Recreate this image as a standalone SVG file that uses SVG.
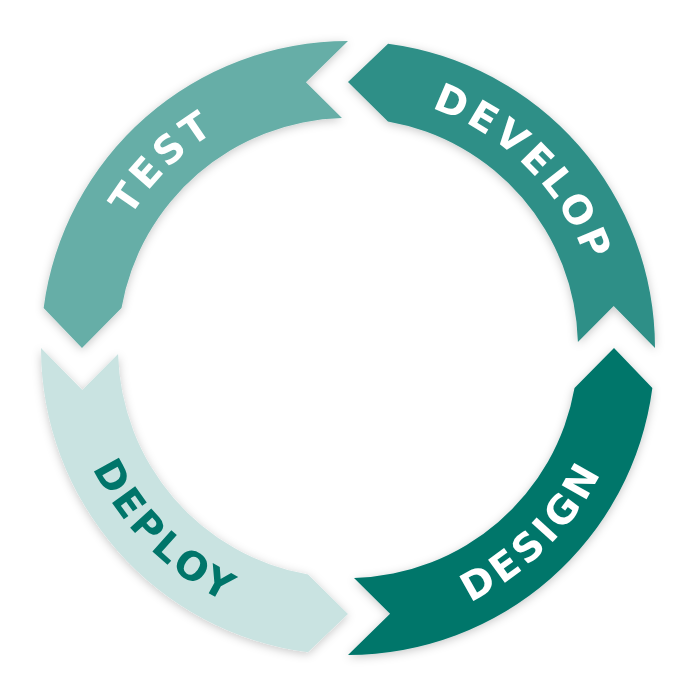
<svg xmlns="http://www.w3.org/2000/svg" width="700" height="700" viewBox="0 0 700 700">
  <defs>
    <filter id="shadow" x="-20%" y="-20%" width="140%" height="140%">
      <feDropShadow dx="0" dy="2" stdDeviation="5" flood-color="#000" flood-opacity="0.22"/>
    </filter>
    <path id="seg" d="M 614 348 L 652.37 388.07 A 307 307 0 0 1 348 655 L 390.08 613.69 L 354.02 577.92 A 230 230 0 0 0 574.51 387.94 Z"/>
    <path id="arcTest" d="M 94 348 A 254 254 0 0 1 348 94"/>
    <path id="arcDevelop" d="M 348 94 A 254 254 0 0 1 602 348"/>
    <path id="arcDeploy" d="M 66 348 A 282 282 0 0 0 348 630"/>
    <path id="arcDesign" d="M 348 630 A 282 282 0 0 0 630 348"/>
  </defs>
  <style>
    .lbl { font-family: "DejaVu Sans", "Verdana", sans-serif; font-weight: bold; font-size: 39px; letter-spacing: 4px; }
    .w { fill: #ffffff; }
    .d { fill: #00756A; }
  </style>
  <rect width="700" height="700" fill="#ffffff"/>
  <g id="connectors"/>
  <g id="design" filter="url(#shadow)">
    <use href="#seg" fill="#00766B"/>
    <text class="lbl w"><textPath href="#arcDesign" startOffset="50%" text-anchor="middle">DESIGN</textPath></text>
  </g>
  <g id="deploy" filter="url(#shadow)">
    <use href="#seg" fill="#C9E3E1" transform="rotate(90 348 348)"/>
    <text class="lbl d"><textPath href="#arcDeploy" startOffset="50%" text-anchor="middle">DEPLOY</textPath></text>
  </g>
  <g id="test" filter="url(#shadow)">
    <use href="#seg" fill="#66AEA7" transform="rotate(180 348 348)"/>
    <text class="lbl w"><textPath href="#arcTest" startOffset="50%" text-anchor="middle">TEST</textPath></text>
  </g>
  <g id="develop" filter="url(#shadow)">
    <use href="#seg" fill="#2F8F87" transform="rotate(270 348 348)"/>
    <text class="lbl w"><textPath href="#arcDevelop" startOffset="50%" text-anchor="middle">DEVELOP</textPath></text>
  </g>
</svg>
